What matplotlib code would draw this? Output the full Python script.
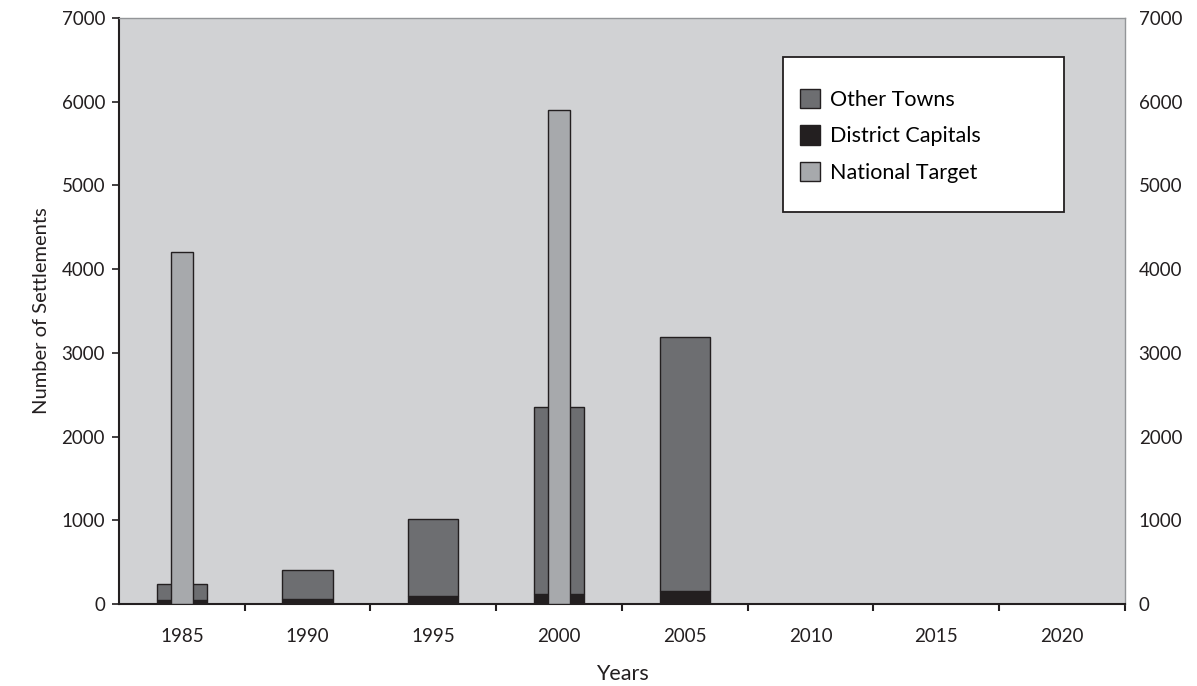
import numpy as np
import matplotlib.pyplot as plt
from matplotlib.patches import Rectangle

# data
years = ['1985', '1990', '1995', '2000', '2005', '2010', '2015', '2020']
district_capitals = [45, 55, 100, 125, 150, 0, 0, 0]
other_towns = [195, 350, 920, 2225, 3040, 0, 0, 0]
national_target = [4200, np.nan, np.nan, 5900, np.nan, np.nan, np.nan, np.nan]

c_bg = '#d1d2d4'
c_other = '#6d6e71'
c_district = '#231f20'
c_target = '#a7a9ac'
c_edge = '#231f20'

plt.rcParams['font.family'] = ['Lato', 'DejaVu Sans']

fig = plt.figure(figsize=(11.97, 6.86), dpi=100)
ax = fig.add_axes([0.0994, 0.1195, 0.8403, 0.8543])
ax.set_facecolor(c_bg)

x = np.arange(len(years))
ax.bar(x, district_capitals, width=0.4, color=c_district, edgecolor=c_edge,
       linewidth=1, label='District Capitals', zorder=2)
ax.bar(x, other_towns, width=0.4, bottom=district_capitals, color=c_other,
       edgecolor=c_edge, linewidth=1, label='Other Towns', zorder=2)

nt = np.array(national_target)
mask = ~np.isnan(nt)
ax.bar(x[mask], nt[mask], width=0.17, color=c_target, edgecolor=c_edge,
       linewidth=1, label='National Target', zorder=3)

ax.set_xlim(-0.5, len(years) - 0.5)
ax.set_ylim(0, 7000)
ax.set_yticks(range(0, 7001, 1000))

ax.set_xticks(x)
ax.set_xticklabels(years)
ax.set_xticks(np.arange(0.5, len(years), 1), minor=True)
ax.tick_params(axis='x', which='major', length=0, pad=17, labelsize=13.5,
               colors='#231f20')
ax.tick_params(axis='x', which='minor', length=5, width=1.5, direction='out',
               color='#231f20')
ax.tick_params(axis='y', length=5, width=1.2, direction='out', labelsize=13.5,
               colors='#231f20', labelright=True, right=False, pad=5)

for s in ['left', 'bottom']:
    ax.spines[s].set_color('#231f20')
    ax.spines[s].set_linewidth(1.5)
for s in ['top', 'right']:
    ax.spines[s].set_color('#939598')
    ax.spines[s].set_linewidth(1)

ax.set_xlabel('Years', fontsize=15.5, color='#231f20', labelpad=14)
ax.set_ylabel('Number of Settlements', fontsize=14.5, color='#231f20', labelpad=8)

# legend frame drawn separately so it can be wider than its entries
ax.add_patch(Rectangle((0.6597, 0.6689), 0.2796, 0.2645, transform=ax.transAxes,
                       facecolor='white', edgecolor='#231f20', linewidth=1.3,
                       zorder=4))

handles, labels = ax.get_legend_handles_labels()
order = [1, 0, 2]
leg = ax.legend([handles[i] for i in order], [labels[i] for i in order],
                loc='upper left', bbox_to_anchor=(0.677, 0.879), fontsize=15.5,
                frameon=False, borderpad=0, handlelength=0.95,
                handleheight=1.0, handletextpad=0.45, labelspacing=0.72,
                borderaxespad=0)
leg.set_zorder(5)

fig.savefig('out.png', dpi=100)
